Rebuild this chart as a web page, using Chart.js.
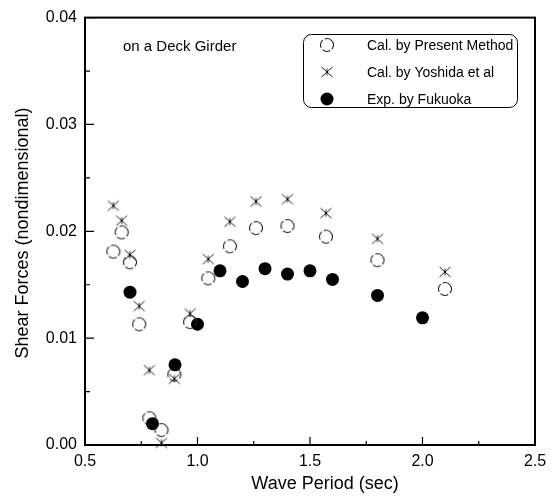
<!DOCTYPE html>
<html>
<head>
<meta charset="utf-8">
<script src="https://cdn.jsdelivr.net/npm/chart.js@4.4.1/dist/chart.umd.min.js"></script>
<style>
  html, body { margin: 0; padding: 0; background: #fff; }
  #caja { width: 560px; height: 503px; }
</style>
</head>
<body>
<div id="caja"><canvas id="grafico" width="560" height="503"></canvas></div>
<script>
// ---------- datos ----------
// periodos (s) de los casos calculados
const periodosCalc = [0.626, 0.663, 0.70, 0.741, 0.786, 0.84, 0.897, 0.967, 1.048, 1.144, 1.26, 1.40, 1.571, 1.80, 2.10];
const presente = [0.0181, 0.0199, 0.0171, 0.0113, 0.0025, 0.0014, 0.0066, 0.0115, 0.0156, 0.0186, 0.0203, 0.0205, 0.0195, 0.0173, 0.0146];
const yoshida = [0.0224, 0.0210, 0.0178, 0.0130, 0.0070, 0.0002, 0.0062, 0.0123, 0.0174, 0.0209, 0.0228, 0.0230, 0.0217, 0.0193, 0.0162];

// periodos (s) del ensayo
const periodosExp = [0.70, 0.80, 0.90, 1.00, 1.10, 1.20, 1.30, 1.40, 1.50, 1.60, 1.80, 2.00];
const fukuoka = [0.0143, 0.0020, 0.0075, 0.0113, 0.0163, 0.0153, 0.0165, 0.0160, 0.0163, 0.0155, 0.0140, 0.0119];

const ticksX = [0.5, 1.0, 1.5, 2.0, 2.5];
const ticksY = [0.00, 0.01, 0.02, 0.03, 0.04];

const titulo = "on a Deck Girder";
const tituloX = "Wave Period (sec)";
const tituloY = "Shear Forces (nondimensional)";
const nombres = ["Cal. by Present Method", "Cal. by Yoshida et al", "Exp. by Fukuoka"];

const FUENTE = "'Liberation Sans', Arial, Helvetica, sans-serif";

// ---------- marcadores ----------
function circuloHueco() {
  const c = document.createElement("canvas");
  c.width = 16; c.height = 16;
  const g = c.getContext("2d");
  g.strokeStyle = "#222";
  g.lineWidth = 1.1;
  g.setLineDash([8, 2.3]);
  g.beginPath();
  g.arc(8, 8, 6.4, -Math.PI / 4 + 0.18, -Math.PI / 4 + 0.18 + Math.PI * 2);
  g.stroke();
  return c;
}

function asterisco() {
  const c = document.createElement("canvas");
  c.width = 14; c.height = 14;
  const g = c.getContext("2d");
  g.strokeStyle = "#222";
  g.lineWidth = 1;
  g.beginPath();
  g.moveTo(1.5, 2); g.lineTo(12.5, 12);
  g.moveTo(12.5, 2); g.lineTo(1.5, 12);
  g.moveTo(7, 3.5); g.lineTo(7, 10.5);
  g.stroke();
  g.fillStyle = "#000";
  g.fillRect(6, 6, 2, 2);
  return c;
}

const marcaPresente = circuloHueco();
const marcaYoshida = asterisco();

function puntos(xs, ys) {
  return xs.map(function (x, i) { return { x: x, y: ys[i] }; });
}

function esMayor(v, paso) {
  return Math.abs(v / paso - Math.round(v / paso)) < 1e-6;
}

// ---------- ticks hacia dentro, marco, textos y leyenda ----------
const marco = {
  id: "marco",
  beforeDatasetsDraw(chart) {
    const { ctx, chartArea: a, scales } = chart;
    ctx.save();
    ctx.strokeStyle = "#000";
    ctx.lineWidth = 1.2;
    ctx.beginPath();
    scales.x.ticks.forEach(function (t) {
      const px = scales.x.getPixelForValue(t.value);
      const largo = esMayor(t.value, 0.5) ? 8 : 4;
      ctx.moveTo(px, a.bottom);
      ctx.lineTo(px, a.bottom - largo);
    });
    scales.y.ticks.forEach(function (t) {
      const py = scales.y.getPixelForValue(t.value);
      const largo = esMayor(t.value, 0.01) ? 9 : 5;
      ctx.moveTo(a.left, py);
      ctx.lineTo(a.left + largo, py);
    });
    ctx.stroke();
    ctx.lineWidth = 2;
    ctx.strokeRect(a.left, a.top, a.right - a.left, a.bottom - a.top);
    ctx.restore();
  },
  afterDraw(chart) {
    const ctx = chart.ctx;
    ctx.save();
    ctx.fillStyle = "#000";
    ctx.textBaseline = "alphabetic";
    ctx.font = "15px " + FUENTE;
    ctx.fillText(titulo, 123, 51);

    // titulos de los ejes
    ctx.font = "18px " + FUENTE;
    ctx.textAlign = "center";
    ctx.fillText(tituloX, 325, 489);
    ctx.save();
    ctx.translate(28, 233);
    ctx.rotate(-Math.PI / 2);
    ctx.fillText(tituloY, 0, 0);
    ctx.restore();
    ctx.textAlign = "left";

    // leyenda
    const x0 = 303, y0 = 34, x1 = 517, y1 = 107, r = 8;
    ctx.lineWidth = 1;
    ctx.strokeStyle = "#000";
    ctx.beginPath();
    ctx.roundRect(x0 + 0.5, y0 + 0.5, x1 - x0, y1 - y0, r);
    ctx.stroke();

    const filas = [45, 72, 99];
    ctx.drawImage(marcaPresente, 327 - 8, filas[0] - 8);
    ctx.drawImage(marcaYoshida, 327 - 7, filas[1] - 7);
    ctx.beginPath();
    ctx.arc(327, filas[2], 6.5, 0, Math.PI * 2);
    ctx.fill();

    ctx.font = "14px " + FUENTE;
    ctx.textBaseline = "middle";
    nombres.forEach(function (n, i) {
      ctx.fillText(n, 367, filas[i] + 1);
    });
    ctx.restore();
  }
};

// ---------- grafica ----------
const ctx = document.getElementById("grafico").getContext("2d");

new Chart(ctx, {
  type: "scatter",
  data: {
    datasets: [
      {
        label: nombres[0],
        data: puntos(periodosCalc, presente),
        pointStyle: marcaPresente,
        clip: false
      },
      {
        label: nombres[1],
        data: puntos(periodosCalc, yoshida),
        pointStyle: marcaYoshida,
        clip: false
      },
      {
        label: nombres[2],
        data: puntos(periodosExp, fukuoka),
        pointStyle: "circle",
        pointRadius: 6.5,
        backgroundColor: "#000",
        borderColor: "#000",
        borderWidth: 0,
        clip: false
      }
    ]
  },
  options: {
    responsive: false,
    animation: false,
    devicePixelRatio: 1,
    layout: { padding: { left: 0, right: 25, top: 15, bottom: 0 } },
    plugins: {
      legend: { display: false },
      tooltip: { enabled: false }
    },
    scales: {
      x: {
        type: "linear",
        min: 0.5,
        max: 2.5,
        afterFit: function (s) { s.height = 58; },
        afterBuildTicks: function (s) {
          s.ticks = [];
          for (let v = 0.5; v <= 2.5001; v += 0.25) s.ticks.push({ value: Math.round(v * 100) / 100 });
        },
        ticks: {
          autoSkip: false,
          maxRotation: 0,
          padding: 7,
          color: "#000",
          font: { family: FUENTE, size: 16 },
          callback: function (v) {
            return ticksX.some(function (t) { return Math.abs(t - v) < 1e-6; }) ? v.toFixed(1) : "";
          }
        },
        grid: { display: false, drawTicks: false },
        border: { display: false }
      },
      y: {
        type: "linear",
        min: 0,
        max: 0.04,
        afterFit: function (s) { s.width = 85; },
        afterBuildTicks: function (s) {
          s.ticks = [];
          for (let k = 0; k <= 8; k++) s.ticks.push({ value: Math.round(k * 5) / 1000 });
        },
        ticks: {
          autoSkip: false,
          padding: 8,
          color: "#000",
          font: { family: FUENTE, size: 16 },
          callback: function (v) {
            return ticksY.some(function (t) { return Math.abs(t - v) < 1e-9; }) ? v.toFixed(2) : "";
          }
        },
        grid: { display: false, drawTicks: false },
        border: { display: false }
      }
    }
  },
  plugins: [marco]
});
</script>
</body>
</html>
